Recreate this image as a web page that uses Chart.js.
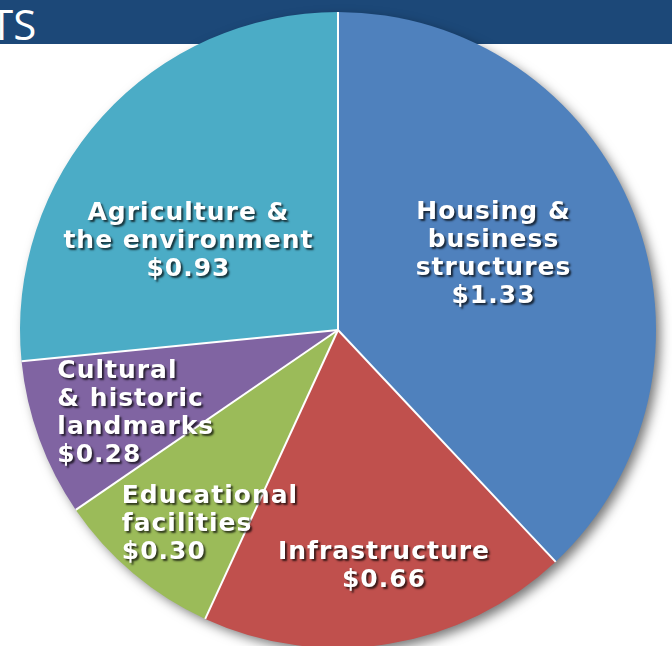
<!DOCTYPE html>
<html>
<head>
<meta charset="utf-8">
<script src="https://cdn.jsdelivr.net/npm/chart.js@4"></script>
<style>
  html, body { margin: 0; padding: 0; width: 672px; height: 646px; overflow: hidden; background: #fff; }
  #band { position: absolute; left: 0; top: 0; width: 672px; height: 44px; background: #1c4878; overflow: hidden; }
  #band span { position: absolute; left: -10px; top: -5px; color: #fff; font: 42px "Open Sans", sans-serif; }
  #wrap { position: absolute; left: 0; top: 0; width: 672px; height: 646px; }
</style>
</head>
<body>
<div id="band"><span>TS</span></div>
<div id="wrap"><canvas id="chart"></canvas></div>
<script>
// slices, clockwise from 12 o'clock
const categories = ['Housing & business structures', 'Infrastructure', 'Educational facilities', 'Cultural & historic landmarks', 'Agriculture & the environment'];
const values = [1.33, 0.66, 0.30, 0.28, 0.93];
const labelLines = [
    ['Housing &', 'business', 'structures'],
    ['Infrastructure'],
    ['Educational', 'facilities'],
    ['Cultural', '& historic', 'landmarks'],
    ['Agriculture &', 'the environment']
];
const colors = ['#4f81bd', '#c0504d', '#9bbb59', '#8064a2', '#4bacc6'];

// label anchor: canvas angle (deg), fraction of radius, text align
const labelPlace = [
    [-26, 0.544, 'center'],
    [79, 0.758, 'center'],
    [138, 0.915, 'left'],
    [163.4, 0.921, 'left'],
    [-149.3, 0.547, 'center']
];

const pieShadow = {
    id: 'pieShadow',
    beforeDatasetsDraw(chart) {
        const arc = chart.getDatasetMeta(0).data[0];
        if (!arc) return;
        const ctx = chart.ctx;
        ctx.save();
        ctx.shadowColor = 'rgba(0,0,0,0.55)';
        ctx.shadowBlur = 12;
        ctx.shadowOffsetX = 5;
        ctx.shadowOffsetY = 5;
        ctx.fillStyle = '#888';
        ctx.beginPath();
        ctx.arc(arc.x, arc.y, arc.outerRadius - 1, 0, Math.PI * 2);
        ctx.fill();
        ctx.restore();
    }
};

const separators = {
    id: 'separators',
    afterDatasetsDraw(chart) {
        const ctx = chart.ctx;
        ctx.save();
        ctx.strokeStyle = '#ffffff';
        ctx.lineWidth = 2;
        chart.getDatasetMeta(0).data.forEach(a => {
            ctx.beginPath();
            ctx.moveTo(a.x, a.y);
            ctx.lineTo(a.x + Math.cos(a.startAngle) * a.outerRadius, a.y + Math.sin(a.startAngle) * a.outerRadius);
            ctx.stroke();
        });
        ctx.restore();
    }
};

const sliceLabels = {
    id: 'sliceLabels',
    afterDatasetsDraw(chart) {
        const ctx = chart.ctx;
        const lh = 28;
        ctx.save();
        ctx.font = 'bold 25px "DejaVu Sans", sans-serif';
        ctx.letterSpacing = '1px';
        ctx.fillStyle = '#ffffff';
        ctx.textBaseline = 'middle';
        ctx.shadowColor = 'rgba(0,0,0,0.7)';
        ctx.shadowBlur = 2;
        ctx.shadowOffsetX = 2;
        ctx.shadowOffsetY = 2;
        chart.getDatasetMeta(0).data.forEach((a, i) => {
            const [deg, frac, align] = labelPlace[i];
            const ang = deg * Math.PI / 180;
            const x = a.x + Math.cos(ang) * a.outerRadius * frac;
            const y = a.y + Math.sin(ang) * a.outerRadius * frac;
            const lines = labelLines[i].concat(['$' + values[i].toFixed(2)]);
            ctx.textAlign = align;
            lines.forEach((t, k) => {
                ctx.fillText(t, x, y - (lines.length - 1) * lh / 2 + k * lh);
            });
        });
        ctx.restore();
    }
};

new Chart(document.getElementById('chart'), {
    type: 'pie',
    data: {
        labels: categories,
        datasets: [{
            data: values,
            backgroundColor: colors,
            borderWidth: 0
        }]
    },
    options: {
        responsive: true,
        maintainAspectRatio: false,
        animation: false,
        devicePixelRatio: 1,
        radius: 318,
        layout: { padding: { left: 4, top: 14, right: 0, bottom: 0 } },
        plugins: { legend: { display: false }, tooltip: { enabled: false } }
    },
    plugins: [pieShadow, separators, sliceLabels]
});
</script>
</body>
</html>
